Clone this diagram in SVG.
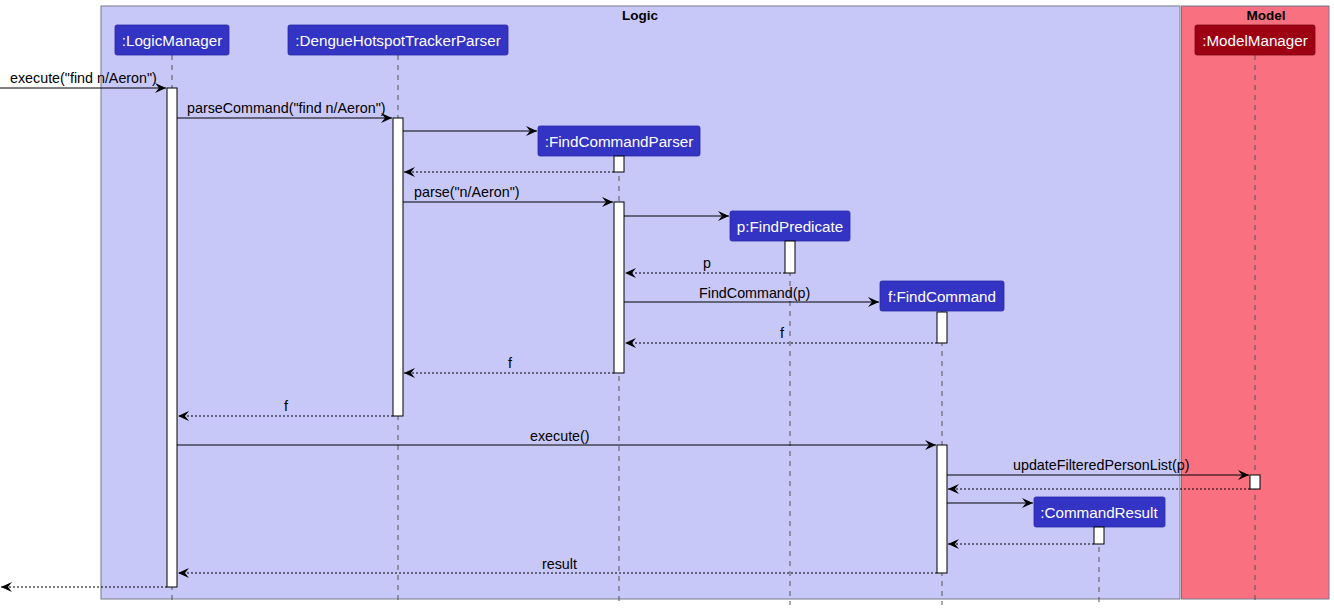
<svg xmlns="http://www.w3.org/2000/svg" width="1334" height="611" viewBox="0 0 1334 611">
<defs>
<style>
text{font-family:"Liberation Sans",Arial,sans-serif;font-size:14.3px;fill:#000}
.pt{fill:#fff;font-size:15.2px;text-anchor:middle}
.box{fill:#3333C4;stroke:#2A2AA8;stroke-width:0.8}
.life{stroke:#555;stroke-width:1;stroke-dasharray:5,5}
.act{fill:#fff;stroke:#000;stroke-width:1}
.msg{stroke:#000;stroke-width:1;fill:none;marker-end:url(#ah)}
.ret{stroke:#000;stroke-width:1;fill:none;stroke-dasharray:2,2;marker-end:url(#ah)}
.title{font-weight:bold;text-anchor:middle;font-size:13.5px}
</style>
<marker id="ah" viewBox="0 0 12 10" refX="11" refY="5" markerWidth="12" markerHeight="10" markerUnits="userSpaceOnUse" orient="auto">
<path d="M0,0 L11,5 L0,10 L4,5 Z" fill="#000"/>
</marker>
</defs>
<g id="box-logic">
<rect x="101" y="6" width="1079" height="593" fill="#C8C8F8" stroke="#77778A" stroke-width="1"/>
<text class="title" x="640" y="20">Logic</text>
</g>
<g id="box-model">
<rect x="1181.5" y="6" width="147.5" height="593" fill="#F97181" stroke="#77778A" stroke-width="1"/>
<text class="title" x="1266" y="20">Model</text>
</g>
<g id="lifelines">
<line class="life" x1="172" y1="55" x2="172" y2="605"/>
<line class="life" x1="398" y1="55" x2="398" y2="605"/>
<line class="life" x1="619" y1="156" x2="619" y2="605"/>
<line class="life" x1="790" y1="241" x2="790" y2="605"/>
<line class="life" x1="942" y1="311" x2="942" y2="605"/>
<line class="life" x1="1099" y1="527" x2="1099" y2="605"/>
<line class="life" x1="1255" y1="55" x2="1255" y2="605"/>
</g>
<g id="n-logicmanager">
<rect class="box" x="115" y="25" width="114" height="30" rx="2"/>
<text class="pt" x="172" y="46">:LogicManager</text>
</g>
<g id="n-parser">
<rect class="box" x="288" y="25" width="220" height="30" rx="2"/>
<text class="pt" x="398" y="46">:DengueHotspotTrackerParser</text>
</g>
<g id="n-findcommandparser">
<rect class="box" x="538" y="126" width="162" height="30" rx="2"/>
<text class="pt" x="619" y="147">:FindCommandParser</text>
</g>
<g id="n-findpredicate">
<rect class="box" x="730" y="211" width="120" height="30" rx="2"/>
<text class="pt" x="790" y="232">p:FindPredicate</text>
</g>
<g id="n-findcommand">
<rect class="box" x="880" y="281" width="124" height="30" rx="2"/>
<text class="pt" x="942" y="302">f:FindCommand</text>
</g>
<g id="n-commandresult">
<rect class="box" x="1034" y="497" width="131" height="30" rx="2"/>
<text class="pt" x="1099" y="518">:CommandResult</text>
</g>
<g id="n-modelmanager">
<rect x="1195" y="25" width="120" height="30" rx="2" fill="#9D0012" stroke="#7A0010" stroke-width="0.8"/>
<text class="pt" x="1255" y="46">:ModelManager</text>
</g>
<g id="activations">
<rect class="act" x="167" y="88" width="10" height="499"/>
<rect class="act" x="393" y="118" width="10" height="298"/>
<rect class="act" x="614" y="156" width="10" height="16"/>
<rect class="act" x="614" y="202" width="10" height="171"/>
<rect class="act" x="785" y="241" width="10" height="32"/>
<rect class="act" x="937" y="312" width="10" height="31"/>
<rect class="act" x="937" y="445" width="10" height="128"/>
<rect class="act" x="1250" y="475" width="10" height="14"/>
<rect class="act" x="1094" y="527" width="10" height="17"/>
</g>
<g id="connectors">
<line class="msg" x1="0" y1="88" x2="166" y2="88"/>
<text x="10" y="83">execute("find n/Aeron")</text>
<line class="msg" x1="177" y1="118" x2="392" y2="118"/>
<text x="187" y="113">parseCommand("find n/Aeron")</text>
<line class="msg" x1="403" y1="131" x2="537" y2="131"/>
<line class="ret" x1="614" y1="172" x2="404" y2="172"/>
<line class="msg" x1="403" y1="202" x2="613" y2="202"/>
<text x="414" y="197">parse("n/Aeron")</text>
<line class="msg" x1="624" y1="216" x2="729" y2="216"/>
<line class="ret" x1="785" y1="273" x2="625" y2="273"/>
<text x="703" y="268">p</text>
<line class="msg" x1="624" y1="302" x2="879" y2="302"/>
<text x="699" y="298">FindCommand(p)</text>
<line class="ret" x1="937" y1="343" x2="625" y2="343"/>
<text x="780" y="338">f</text>
<line class="ret" x1="614" y1="373" x2="404" y2="373"/>
<text x="508" y="368">f</text>
<line class="ret" x1="393" y1="416" x2="178" y2="416"/>
<text x="284" y="411">f</text>
<line class="msg" x1="177" y1="445" x2="936" y2="445"/>
<text x="530" y="441">execute()</text>
<line class="msg" x1="947" y1="475" x2="1249" y2="475"/>
<text x="1013" y="470">updateFilteredPersonList(p)</text>
<line class="ret" x1="1250" y1="489" x2="948" y2="489"/>
<line class="msg" x1="947" y1="503" x2="1033" y2="503"/>
<line class="ret" x1="1094" y1="544" x2="948" y2="544"/>
<line class="ret" x1="937" y1="573" x2="178" y2="573"/>
<text x="542" y="569">result</text>
<line class="ret" x1="167" y1="587" x2="1" y2="587"/>
</g>
</svg>
